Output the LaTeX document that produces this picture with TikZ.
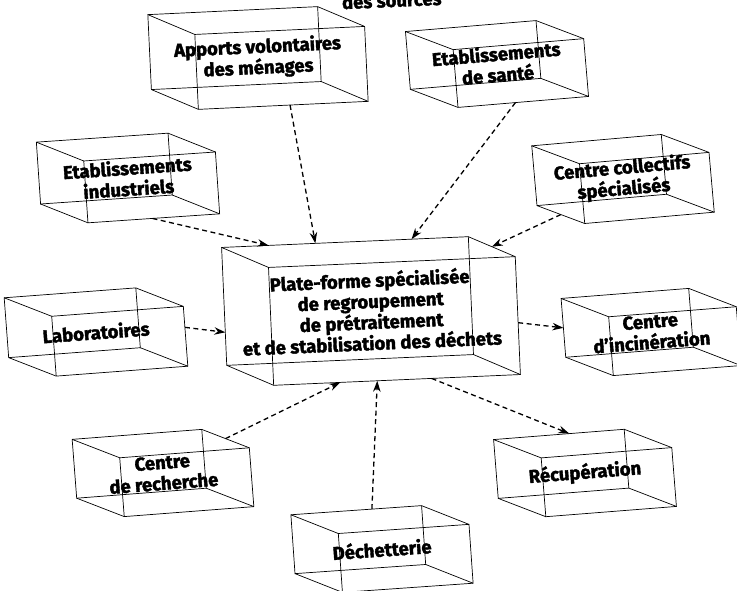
\documentclass[tikz,border=0pt]{standalone}
\usepackage{fontspec}
\setmainfont{Fira Sans}[BoldFeatures={FakeBold=2}]
\usetikzlibrary{calc,arrows.meta}
% wire-frame box: (name)(x,y of centre)(width:height:tilt){text}
\def\boite(#1)(#2,#3)(#4:#5:#6)#7{%
	\begin{scope}[shift={(#2,#3)}, rotate=#6]
		\coordinate (#1-fnw) at ({-#4/2+23}, {#5/2-11});
		\coordinate (#1-fne) at ({#4/2+23}, {#5/2-11});
		\coordinate (#1-fsw) at ({-#4/2+23}, {-#5/2-11});
		\coordinate (#1-fse) at ({#4/2+23}, {-#5/2-11});
		\coordinate (#1-bnw) at ({-#4/2-23}, {#5/2+11});
		\coordinate (#1-bne) at ({#4/2-23}, {#5/2+11});
		\coordinate (#1-bsw) at ({-#4/2-23}, {-#5/2+11});
		\coordinate (#1-bse) at ({#4/2-23}, {-#5/2+11});
		\draw[arete] (#1-bnw) -- (#1-bne) -- (#1-bse) -- (#1-bsw) -- cycle;
		\draw[arete] (#1-fnw) -- (#1-fne) -- (#1-fse) -- (#1-fsw) -- cycle;
		\draw[arete] (#1-bnw) -- (#1-fnw) (#1-bne) -- (#1-fne)
		(#1-bsw) -- (#1-fsw) (#1-bse) -- (#1-fse);
		\node[texte, rotate=#6] (#1) at (0,0) {#7};
	\end{scope}}
\tikzset{
	arete/.style={line width=0.7pt},
	fleche/.style={line width=1.3pt, dash pattern=on 5pt off 3.5pt, -{Stealth[length=11pt,width=7.5pt]}},
	texte/.style={font=\bfseries\fontsize{18.5}{21}\selectfont, align=center, inner sep=0pt}
}

\begin{document}
\begin{tikzpicture}[x=1pt, y=1pt]
	%%%%% START %%%%%
	\useasboundingbox (0,0) rectangle (737,590);
	\clip (0,0) rectangle (737,590);
	
	\node[texte, anchor=base, rotate=2.5] (titre) at (392,583) {des sources};
	
	\boite(apports)(258,532)(170:75:2.7){Apports volontaires\\des ménages};
	\boite(sante)(497,526)(131:58:4.8){Etablissements\\de santé};
	\boite(industriels)(128,412)(132:62:3.9){Etablissements\\industriels};
	\boite(collectifs)(623,411)(130:60:5){Centre collectifs\\spécialisés};
	\boite(central)(371,279)(247:118:2.5){Plate-forme spécialisée\\de regroupement\\de prétraitement\\et de stabilisation des déchets};
	\boite(labo)(96,258)(132:60:4.3){Laboratoires};
	\boite(incineration)(651,258)(128:59:4.5){Centre\\d'incinération};
	\boite(recherche)(163,117)(130:59:4.4){Centre\\de recherche};
	\boite(dechetterie)(382,41)(131:59:4){Déchetterie};
	\boite(recuperation)(585,117)(131:59:4.5){Récupération};
	
	% apports vers la plate-forme
	\draw[fleche] ($(apports-fsw)!0.54!(apports-fse)$) -- ($(central-bnw)!0.38!(central-bne)$);
	\draw[fleche] ($(sante-fsw)!0.44!(sante-fse)$) -- ($(central-bnw)!0.77!(central-bne)$);
	\draw[fleche] ($(industriels-fsw)!0.49!(industriels-fse)$) -- ($(central-bnw)!0.19!(central-bne)$);
	\draw[fleche] ($(collectifs-bsw)!0.5!(collectifs-fsw)$) -- ($(central-bne)!0.5!(central-fne)$);
	\draw[fleche] ($(labo-fne)!0.35!(labo-fse)$) -- ($(central-bnw)!0.72!(central-bsw)$);
	\draw[fleche] ($(recherche-bne)!0.5!(recherche-fne)$) -- ($(central-fsw)!0.27!(central-fse)$);
	\draw[fleche] ($(dechetterie-bnw)!0.62!(dechetterie-bne)$) -- ($(central-fsw)!0.42!(central-fse)$);
	
	% sorties
	\draw[fleche] ($(central-fne)!0.56!(central-fse)$) -- ($(incineration-bnw)!0.5!(incineration-bsw)$);
	\draw[fleche] ($(central-fsw)!0.64!(central-fse)$) -- ($(recuperation-bnw)!0.58!(recuperation-bne)$);
	
	%%%%% END %%%%%
\end{tikzpicture}
\end{document}
